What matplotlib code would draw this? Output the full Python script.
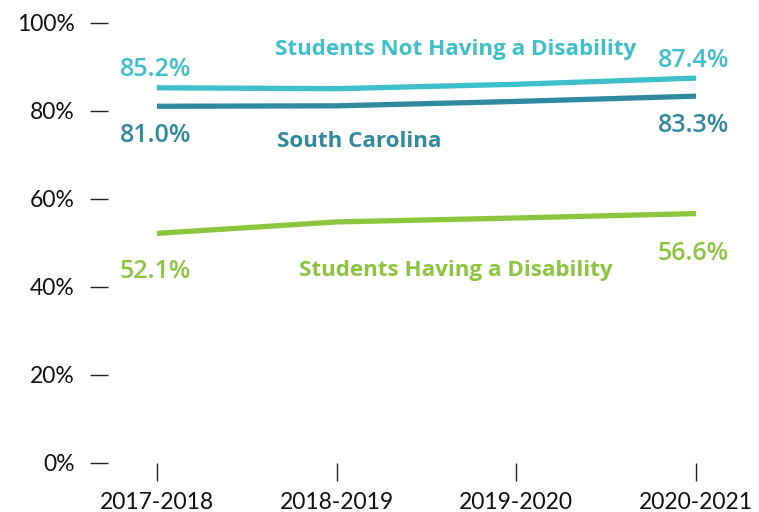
import matplotlib
matplotlib.use("Agg")
import matplotlib.pyplot as plt

years = ["2017-2018", "2018-2019", "2019-2020", "2020-2021"]
not_disability = [85.2, 85.0, 86.0, 87.4]
south_carolina = [81.0, 81.1, 82.1, 83.3]
disability = [52.1, 54.7, 55.6, 56.6]
y_ticks = [0, 20, 40, 60, 80, 100]
y_tick_labels = ["0%", "20%", "40%", "60%", "80%", "100%"]

c_cyan = "#3DBFCC"
c_teal = "#2F8AA0"
c_green = "#8CC63F"

W, H = 759, 512
fig = plt.figure(figsize=(W / 100, H / 100), dpi=100)
left, right, bottom, top = 108, 740, 462.5, 22.7
ax = fig.add_axes([left / W, (H - bottom) / H, (right - left) / W, (bottom - top) / H])

x = list(range(len(years)))
ax.plot(x, not_disability, color=c_cyan, lw=3.8, solid_capstyle="butt")
ax.plot(x, south_carolina, color=c_teal, lw=3.8, solid_capstyle="butt")
ax.plot(x, disability, color=c_green, lw=3.8, solid_capstyle="butt")

ax.set_xlim(-(157 - left) / 179.67, 3 + (right - 696) / 179.67)
ax.set_ylim(0, 100)
for s in ax.spines.values():
    s.set_visible(False)

ax.set_xticks(x)
ax.set_xticklabels(years, fontfamily="Lato", fontsize=16.5, color="#111111")
ax.set_yticks(y_ticks)
ax.set_yticklabels(y_tick_labels, fontfamily="Lato", fontsize=16.5, color="#111111")
ax.tick_params(axis="y", length=13, width=1.0, pad=11, color="#222222")
ax.tick_params(axis="x", length=13, width=1.0, pad=8, color="#222222")

vfont = dict(fontfamily="Open Sans", fontsize=18, fontweight="semibold", ha="left", va="center")

def val_label(xi, series, dx, dy, color):
    ax.annotate(f"{series[xi]:.1f}%", (xi, series[xi]), xytext=(dx, dy),
                textcoords="offset pixels", color=color, **vfont)

val_label(0, not_disability, -37, 18, c_cyan)
val_label(3, not_disability, -38, 18, c_cyan)
val_label(0, south_carolina, -37, -29, c_teal)
val_label(3, south_carolina, -38, -29, c_teal)
val_label(0, disability, -37, -38, c_green)
val_label(3, disability, -38, -40, c_green)

nfont = dict(fontfamily="Open Sans", fontsize=16.1, fontweight="bold", ha="center", va="center")
ax.text(1.661, 94.0, "Students Not Having a Disability", color=c_cyan, **nfont)
ax.text(1.127, 73.1, "South Carolina", color=c_teal, **nfont)
ax.text(1.664, 43.75, "Students Having a Disability", color=c_green, **nfont)

fig.savefig("out.png", dpi=100)
